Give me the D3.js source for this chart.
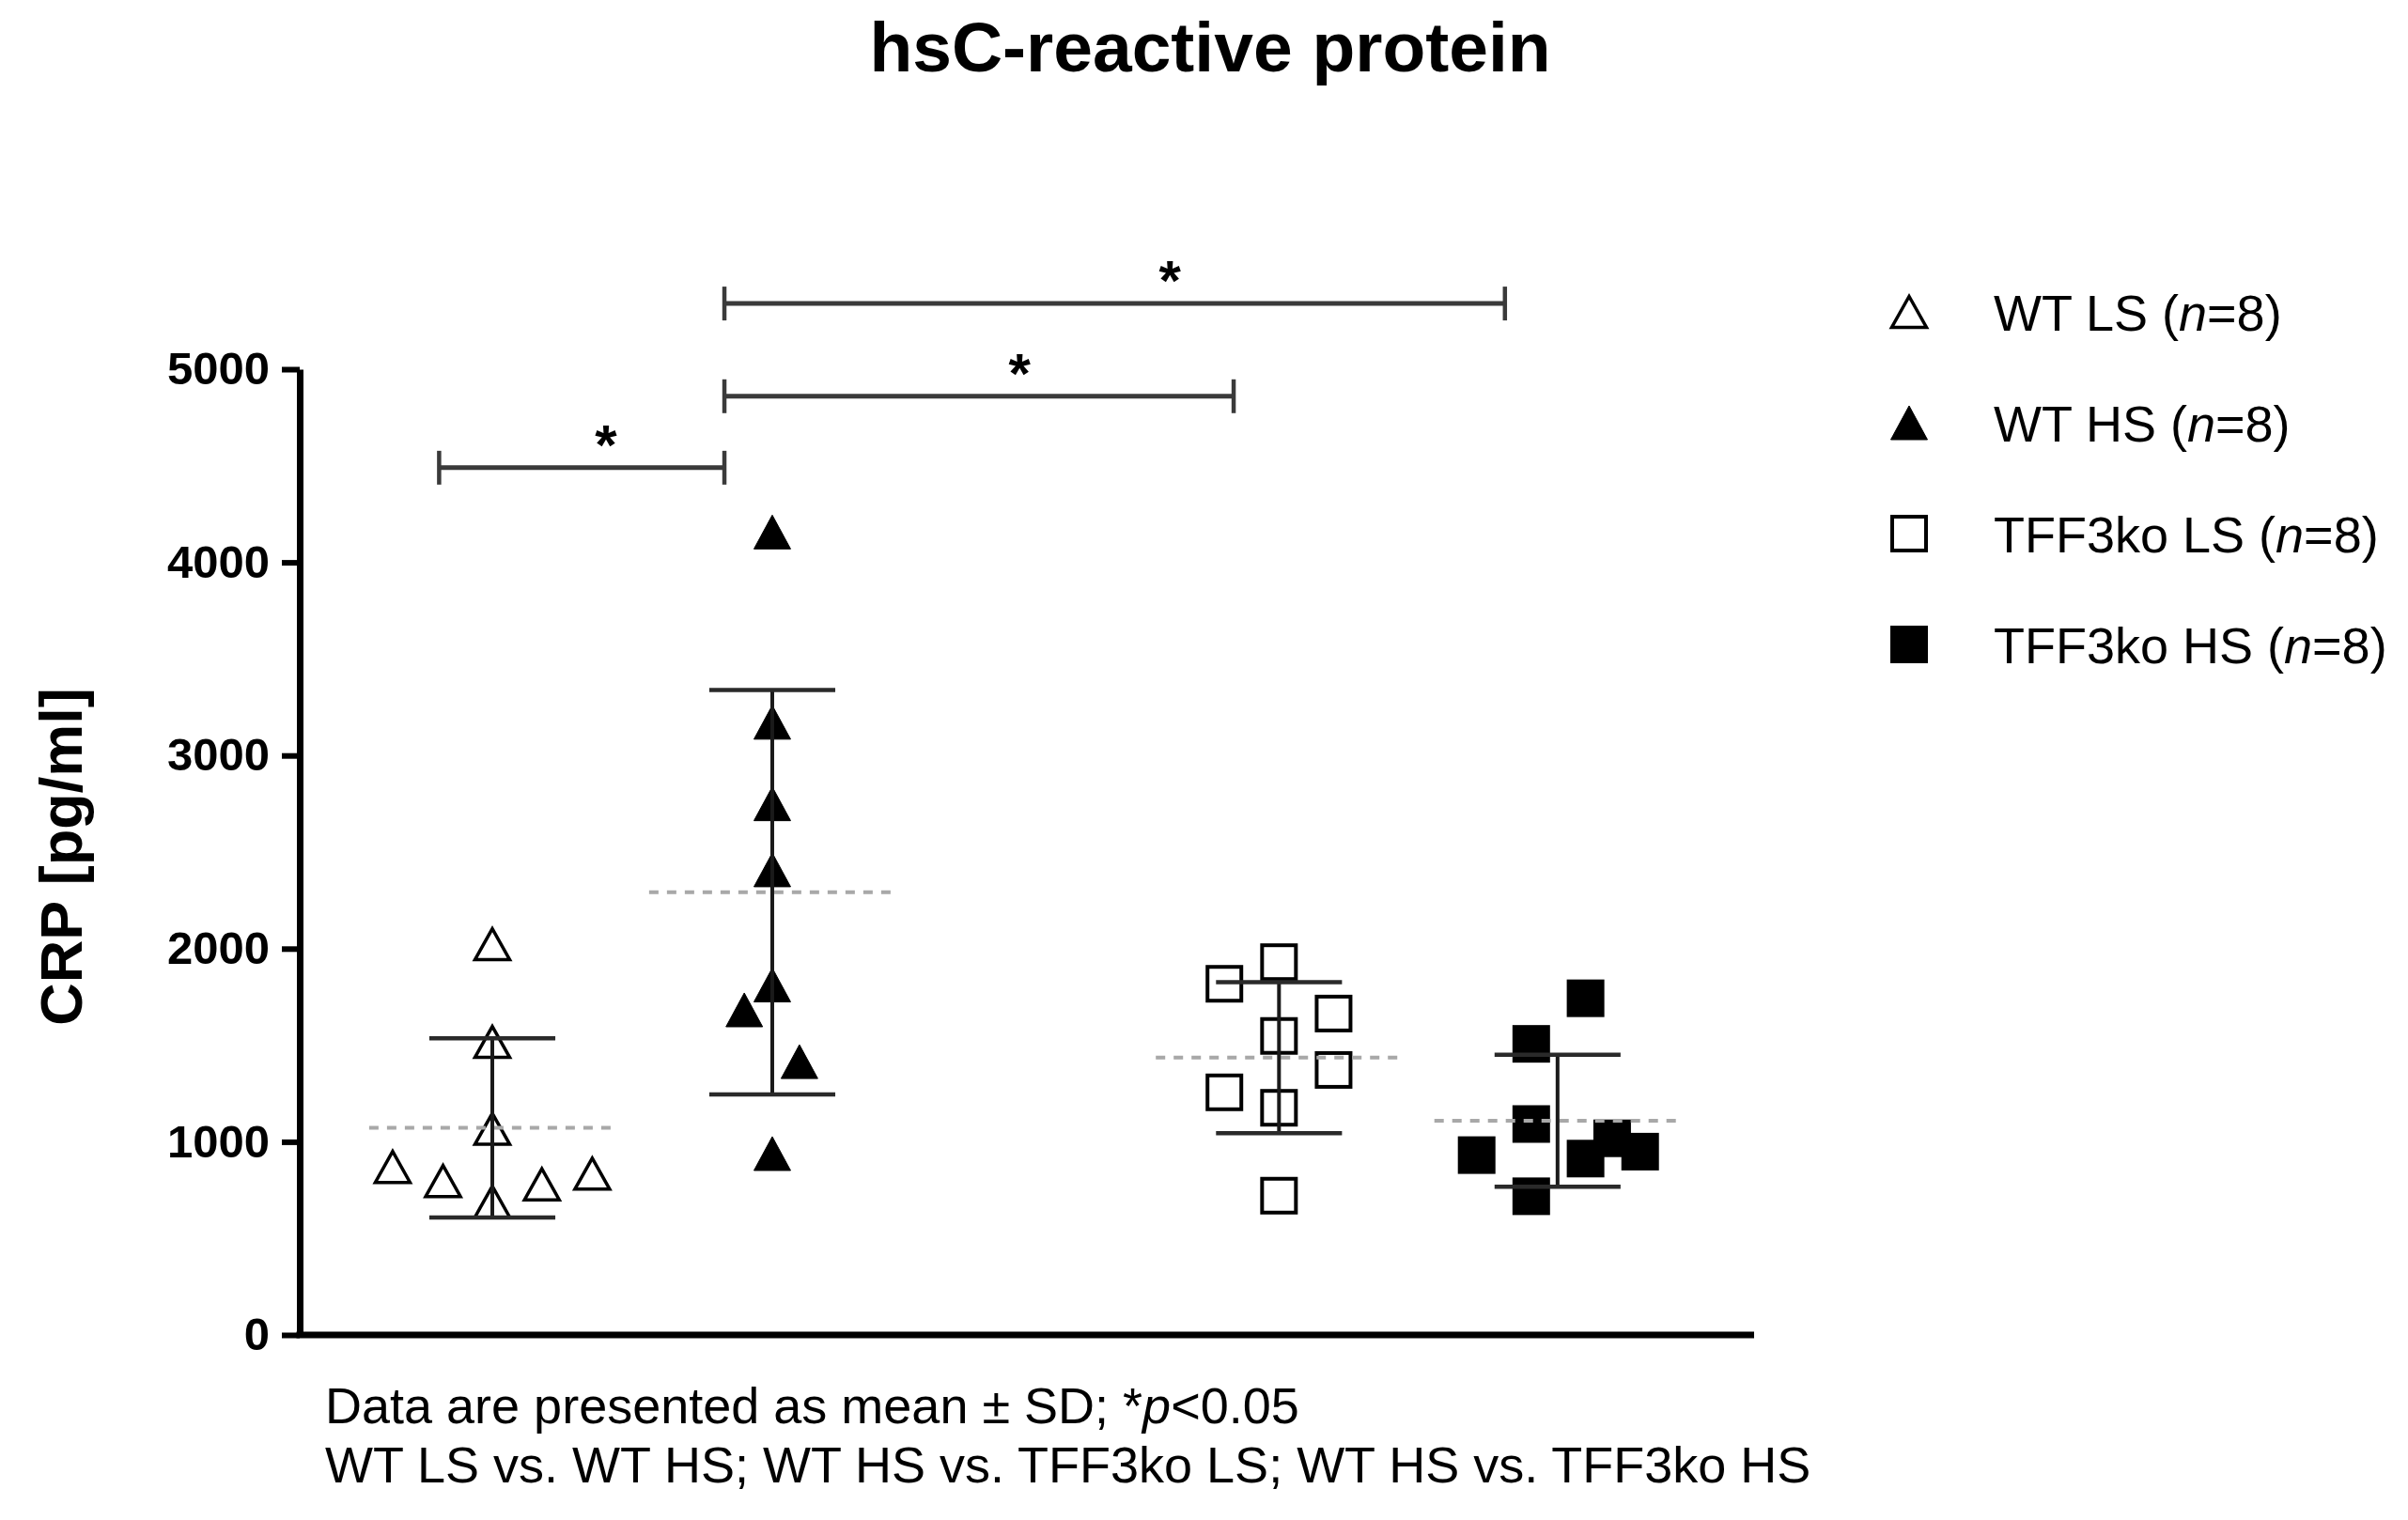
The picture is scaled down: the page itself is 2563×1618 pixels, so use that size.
<!DOCTYPE html>
<html>
<head>
<meta charset="utf-8">
<title>hsC-reactive protein</title>
<script src="https://d3js.org/d3.v7.min.js"></script>
<style>
  body { margin: 0; background: #fff; }
  text { font-family: "Liberation Sans", Arial, sans-serif; fill: #000; }
  .axis text { font-weight: bold; font-size: 49px; }
  .axis path, .axis line { stroke: #000; }
</style>
</head>
<body>
<script>
// groups, in plot order
var groups = ["WT LS", "WT HS", "TFF3ko LS", "TFF3ko HS"];
var groupPos = [0, 1, 2.81, 3.805];           // column positions (GraphPad leaves a gap)
var groupN = [8, 8, 8, 8];

// CRP values [pg/ml]
var wtLS      = [870, 797, 690, 780, 835, 1067, 1517, 2023];
var wtHS      = [4157, 3172, 2750, 2408, 1812, 1683, 1415, 939];
var tff3koLS  = [1818, 1930, 1664, 1548, 1372, 1256, 1176, 721];
var tff3koHS  = [1507, 1743, 1092, 931, 718, 913, 1018, 949];

// horizontal scatter of each point, in column units
var wtLSSpread     = [-0.356, -0.176, 0, 0.177, 0.357, 0, 0, 0];
var wtHSSpread     = [0, 0, 0, 0, 0, -0.1, 0.097, 0];
var tff3koLSSpread = [-0.195, 0, 0.195, 0, 0.195, -0.195, 0, 0];
var tff3koHSSpread = [-0.094, 0.1, -0.094, -0.289, -0.094, 0.1, 0.195, 0.295];

var values = [wtLS, wtHS, tff3koLS, tff3koHS];
var spreads = [wtLSSpread, wtHSSpread, tff3koLSSpread, tff3koHSSpread];
var shapes = ["triangle", "triangle", "square", "square"];
var filled = [false, true, false, true];

// significance brackets: from / to (column units), height (pg/ml), star position
var sigFrom = [-0.19, 0.829, 0.829];
var sigTo   = [0.829, 2.648, 3.617];
var sigY    = [4490, 4860, 5340];
var sigStar = [0.406, 1.883, 2.42];

var yTicks = [0, 1000, 2000, 3000, 4000, 5000];

var width = 2563, height = 1618;
var svg = d3.select("body").append("svg")
    .attr("width", width)
    .attr("height", height);

var x = d3.scaleLinear().domain([-0.688, 4.507]).range([319, 1867]);
var y = d3.scaleLinear().domain([0, 5000]).range([1421, 393]);
var colW = x(1) - x(0);

// title
svg.append("text")
    .attr("x", 1288).attr("y", 76)
    .attr("text-anchor", "middle")
    .style("font-weight", "bold")
    .style("font-size", "75px")
    .text("hsC-reactive protein");

// axes
var yAxis = svg.append("g")
    .attr("class", "axis")
    .attr("transform", "translate(" + x.range()[0] + ",0)")
    .call(d3.axisLeft(y).tickValues(yTicks).tickFormat(d3.format("d"))
        .tickSize(19).tickSizeOuter(0).tickPadding(13));
yAxis.select(".domain").attr("stroke-width", 7);
yAxis.selectAll(".tick line").attr("stroke-width", 6);

var xAxis = svg.append("g")
    .attr("class", "axis")
    .attr("transform", "translate(0," + y(0) + ")")
    .call(d3.axisBottom(x).tickValues([]).tickSizeOuter(0));
xAxis.select(".domain").attr("stroke-width", 7)
    .attr("d", "M" + (x.range()[0] - 3.5) + ",0H" + x.range()[1]);

svg.append("text")
    .attr("transform", "translate(87," + 912 + ") rotate(-90)")
    .attr("text-anchor", "middle")
    .style("font-weight", "bold")
    .style("font-size", "63px")
    .text("CRP [pg/ml]");

// symbol helpers
function drawSymbol(sel, shape, isFilled) {
    if (shape === "triangle") {
        var w = isFilled ? 39 : 37, h = isFilled ? 36 : 33;
        sel.append("path")
            .attr("d", "M0," + (-h / 2) + "L" + (w / 2) + "," + (h / 2) + "L" + (-w / 2) + "," + (h / 2) + "Z")
            .attr("fill", isFilled ? "#000" : "none")
            .attr("stroke", "#000")
            .attr("stroke-width", isFilled ? 1 : 3.5);
    } else {
        var s = isFilled ? 40 : 36;
        sel.append("rect")
            .attr("x", -s / 2).attr("y", -s / 2)
            .attr("width", s).attr("height", s)
            .attr("fill", isFilled ? "#000" : "none")
            .attr("stroke", isFilled ? "none" : "#000")
            .attr("stroke-width", 4);
    }
}

// points
values.forEach(function(vals, gi) {
    var g = svg.append("g").attr("class", "group");
    vals.forEach(function(v, i) {
        var p = g.append("g")
            .attr("transform", "translate(" + x(groupPos[gi] + spreads[gi][i]) + "," + y(v) + ")");
        drawSymbol(p, shapes[gi], filled[gi]);
    });
});

// mean (dashed) and SD bars on top of the points
values.forEach(function(vals, gi) {
    var m = d3.mean(vals), sd = d3.deviation(vals);
    var cx = x(groupPos[gi]);
    svg.append("line")
        .attr("x1", cx - 0.44 * colW).attr("x2", cx + 0.44 * colW)
        .attr("y1", y(m)).attr("y2", y(m))
        .attr("stroke", "#a8a8a8").attr("stroke-width", 4)
        .attr("stroke-dasharray", "10,9");
    svg.append("line")
        .attr("x1", cx).attr("x2", cx)
        .attr("y1", y(m + sd)).attr("y2", y(m - sd))
        .attr("stroke", "#1a1a1a").attr("stroke-width", 4);
    [m + sd, m - sd].forEach(function(v) {
        svg.append("line")
            .attr("x1", cx - 0.225 * colW).attr("x2", cx + 0.225 * colW)
            .attr("y1", y(v)).attr("y2", y(v))
            .attr("stroke", "#2a2a2a").attr("stroke-width", 4.5);
    });
});

// significance brackets
sigY.forEach(function(v, i) {
    var x1 = x(sigFrom[i]), x2 = x(sigTo[i]), yy = y(v);
    var b = svg.append("g").attr("stroke", "#3a3a3a");
    b.append("line").attr("x1", x1).attr("x2", x2).attr("y1", yy).attr("y2", yy)
        .attr("stroke-width", 5);
    [x1, x2].forEach(function(xx) {
        b.append("line").attr("x1", xx).attr("x2", xx)
            .attr("y1", yy - 18).attr("y2", yy + 18)
            .attr("stroke-width", 4.5);
    });
    svg.append("text")
        .attr("x", x(sigStar[i])).attr("y", yy - 4)
        .attr("text-anchor", "middle")
        .style("font-weight", "bold")
        .style("font-size", "60px")
        .text("*");
});

// legend
var legend = svg.append("g").attr("transform", "translate(2032,352)");
groups.forEach(function(name, gi) {
    var row = legend.append("g").attr("transform", "translate(0," + gi * 118 + ")");
    drawSymbol(row.append("g").attr("transform", "translate(0,-20)"), shapes[gi], filled[gi]);
    var t = row.append("text").attr("x", 90).style("font-size", "54px");
    t.append("tspan").text(name + " (");
    t.append("tspan").style("font-style", "italic").text("n");
    t.append("tspan").text("=" + groupN[gi] + ")");
});

// footnote
var note1 = svg.append("text").attr("x", 346).attr("y", 1515).style("font-size", "54px");
note1.append("tspan").text("Data are presented as mean \u00b1 SD; *");
note1.append("tspan").style("font-style", "italic").text("p");
note1.append("tspan").text("<0.05");

svg.append("text").attr("x", 346).attr("y", 1578).style("font-size", "54px")
    .text("WT LS vs. WT HS; WT HS vs. TFF3ko LS; WT HS vs. TFF3ko HS");
</script>
</body>
</html>
